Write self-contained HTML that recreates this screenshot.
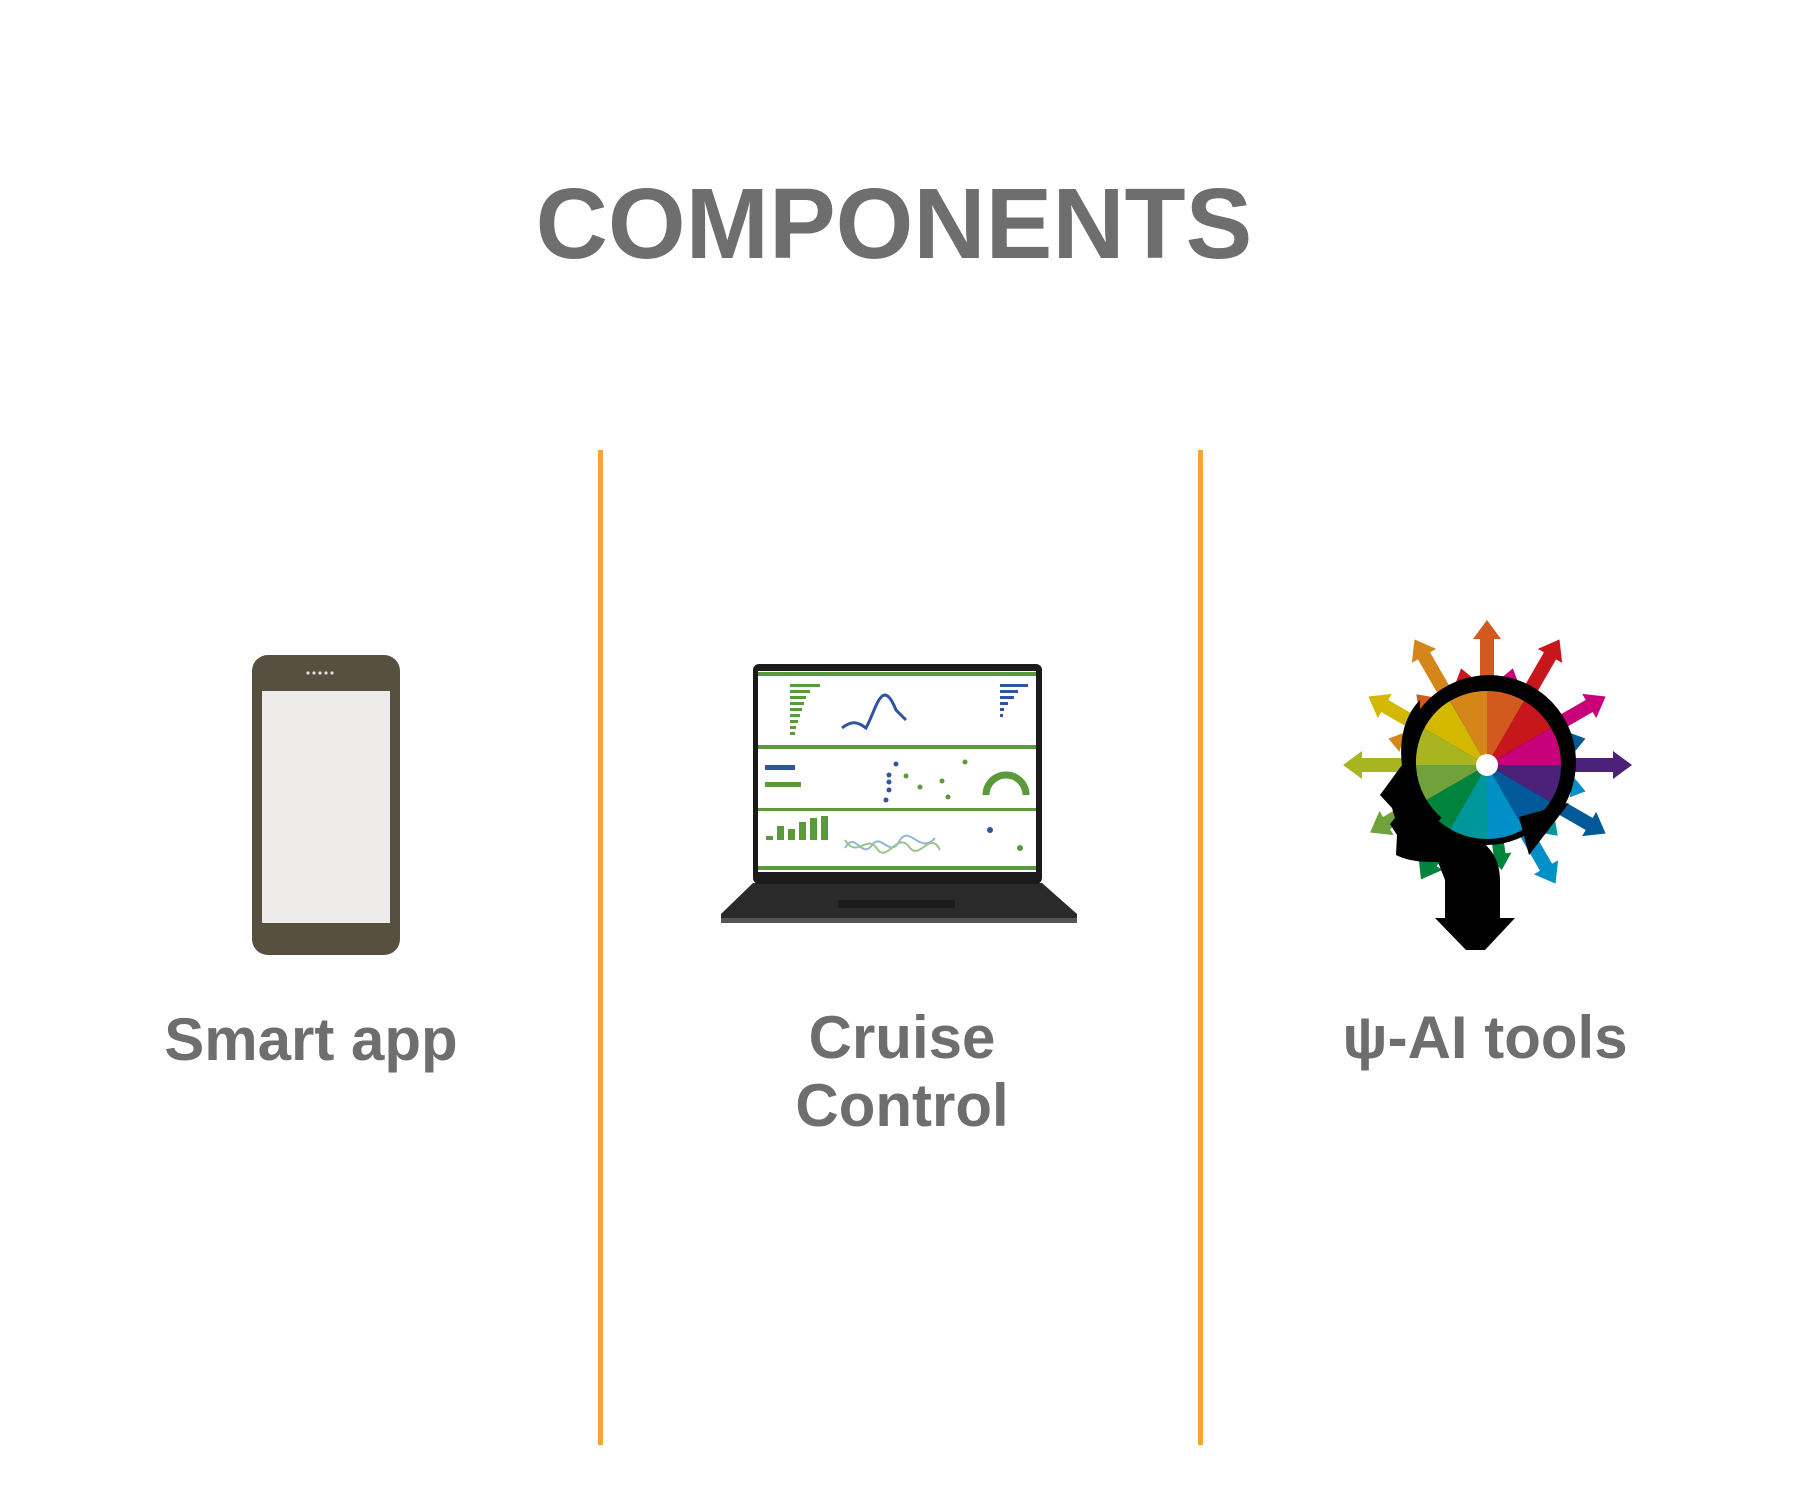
<!DOCTYPE html>
<html><head><meta charset="utf-8"><style>
html,body{margin:0;padding:0;background:#fff}
body{width:1800px;height:1500px;position:relative;overflow:hidden;font-family:"Liberation Sans",Arial,sans-serif}
.t{position:absolute;font-weight:bold;color:#6e6e6e;text-align:center;white-space:nowrap}
.vl{position:absolute;top:450px;height:995px;width:5px;background:#F9A33B}
</style></head><body>
<div class="t" style="left:0;width:1788px;top:164px;font-size:100px;line-height:120px">COMPONENTS</div>
<div class="vl" style="left:598px"></div>
<div class="vl" style="left:1198px"></div>

<div class="t" style="left:111px;width:400px;top:1006px;font-size:60px;line-height:68px">Smart app</div>
<div class="t" style="left:702px;width:400px;top:1004px;font-size:60px;line-height:68px">Cruise<br>Control</div>
<div class="t" style="left:1285px;width:400px;top:1004px;font-size:60px;line-height:68px">ψ-AI tools</div>

<svg width="1800" height="1500" style="position:absolute;left:0;top:0">
 <!-- phone -->
 <rect x="252" y="655" width="148" height="300" rx="16" fill="#575040"/>
 <rect x="262" y="691" width="128" height="232" fill="#EDECEA"/>
 <g fill="#ddd"><circle cx="308" cy="673" r="1.6"/><circle cx="314" cy="673" r="1.6"/><circle cx="320" cy="673" r="1.6"/><circle cx="326" cy="673" r="1.6"/><circle cx="332" cy="673" r="1.6"/></g>
 <!-- laptop -->
 <polygon points="753,883 1042,883 1077,914 1077,922 721,922 721,914" fill="#2a2a2a"/>
 <rect x="721" y="918" width="356" height="5" fill="#555"/>
 <rect x="838" y="900" width="117" height="8" fill="#1c1c1c"/>
 <rect x="753" y="664" width="289" height="220" rx="6" fill="#1b1b1b"/>
 <rect x="758" y="671" width="278" height="201" fill="#fff"/>
 <g fill="#5a9a3a">
  <rect x="758" y="672" width="278" height="4"/><rect x="758" y="745" width="278" height="4"/><rect x="758" y="808" width="278" height="3"/><rect x="758" y="866" width="278" height="4"/>
  <rect x="790" y="684" width="30" height="3"/><rect x="790" y="690" width="20" height="3"/><rect x="790" y="696" width="16" height="3"/><rect x="790" y="702" width="14" height="3"/><rect x="790" y="708" width="12" height="3"/><rect x="790" y="714" width="10" height="3"/><rect x="790" y="720" width="8" height="3"/><rect x="790" y="726" width="6" height="3"/><rect x="790" y="732" width="5" height="3"/>
  <rect x="765" y="782" width="36" height="5"/>
  <rect x="766" y="836" width="7" height="4"/><rect x="777" y="826" width="7" height="14"/><rect x="788" y="829" width="7" height="11"/><rect x="799" y="822" width="7" height="18"/><rect x="810" y="818" width="7" height="22"/><rect x="821" y="816" width="7" height="24"/>
 </g>
 <g fill="#2f55a0">
  <rect x="1000" y="684" width="28" height="3"/><rect x="1000" y="690" width="18" height="3"/><rect x="1000" y="696" width="14" height="3"/><rect x="1000" y="702" width="8" height="3"/><rect x="1000" y="708" width="4" height="3"/><rect x="1000" y="714" width="3" height="3"/>
  <rect x="765" y="765" width="30" height="5"/>
 </g>
 <path d="M842,728 C852,720 858,722 866,728 C876,710 882,675 896,710 L906,720" stroke="#2f55a0" stroke-width="3" fill="none"/>
 <path d="M845,848 C855,830 862,860 872,845 C882,832 890,860 900,840 C910,825 920,855 935,838" stroke="#8fb8d8" stroke-width="2" fill="none"/>
 <path d="M845,840 C858,860 866,832 878,850 C888,862 898,830 910,848 C920,860 930,830 940,850" stroke="#9cc48a" stroke-width="2" fill="none"/>
 <path d="M986,795 A20,20 0 0 1 1026,795" stroke="#5a9a3a" stroke-width="7" fill="none"/>
 <g fill="#2f55a0"><circle cx="896" cy="764" r="2.5"/><circle cx="889" cy="775" r="2.5"/><circle cx="889" cy="782" r="2.5"/><circle cx="889" cy="790" r="2.5"/><circle cx="886" cy="800" r="2.5"/><circle cx="990" cy="830" r="3"/></g>
 <g fill="#5a9a3a"><circle cx="906" cy="776" r="2.5"/><circle cx="920" cy="787" r="2.5"/><circle cx="942" cy="781" r="2.5"/><circle cx="965" cy="762" r="2.5"/><circle cx="948" cy="797" r="2.5"/><circle cx="1020" cy="848" r="3"/></g>

 <!-- head -->
 <g transform="translate(1300,600)">
  <g transform="translate(187,165)">
   <g transform="rotate(-90)"><rect x="0" y="-7" width="128" height="14" fill="#D35A1F"/><polygon points="126,-14 145,0 126,14" fill="#D35A1F"/></g>
   <g transform="rotate(-60)"><rect x="0" y="-7" width="128" height="14" fill="#C8161D"/><polygon points="126,-14 145,0 126,14" fill="#C8161D"/></g>
   <g transform="rotate(-120)"><rect x="0" y="-7" width="128" height="14" fill="#D4861A"/><polygon points="126,-14 145,0 126,14" fill="#D4861A"/></g>
   <g transform="rotate(-150)"><rect x="0" y="-7" width="120" height="14" fill="#D4B800"/><polygon points="118,-14 137,0 118,14" fill="#D4B800"/></g>
   <g transform="rotate(180)"><rect x="0" y="-7" width="127" height="14" fill="#A8B520"/><polygon points="125,-14 144,0 125,14" fill="#A8B520"/></g>
   <g transform="rotate(-30)"><rect x="0" y="-7" width="120" height="14" fill="#C8007A"/><polygon points="118,-14 137,0 118,14" fill="#C8007A"/></g>
   <g transform="rotate(0)"><rect x="0" y="-7" width="128" height="14" fill="#4B2179"/><polygon points="126,-14 145,0 126,14" fill="#4B2179"/></g>
   <g transform="rotate(30)"><rect x="0" y="-7" width="120" height="14" fill="#005A9A"/><polygon points="118,-14 137,0 118,14" fill="#005A9A"/></g>
   <g transform="rotate(60)"><rect x="0" y="-7" width="120" height="14" fill="#0090C8"/><polygon points="118,-14 137,0 118,14" fill="#0090C8"/></g>
   <g transform="rotate(82)"><rect x="0" y="-6" width="92" height="12" fill="#00843D"/><polygon points="90,-12 106,0 90,12" fill="#00843D"/></g>
   <g transform="rotate(120)"><rect x="0" y="-7" width="115" height="14" fill="#00843D"/><polygon points="113,-14 132,0 113,14" fill="#00843D"/></g>
   <g transform="rotate(150)"><rect x="0" y="-7" width="118" height="14" fill="#6FA23A"/><polygon points="116,-14 135,0 116,14" fill="#6FA23A"/></g>
   <g transform="rotate(-105)"><rect x="0" y="-5" width="88" height="10" fill="#C8161D"/><polygon points="86,-10 100,0 86,10" fill="#C8161D"/></g>
   <g transform="rotate(-75)"><rect x="0" y="-5" width="88" height="10" fill="#C8007A"/><polygon points="86,-10 100,0 86,10" fill="#C8007A"/></g>
   <g transform="rotate(-135)"><rect x="0" y="-5" width="88" height="10" fill="#D35A1F"/><polygon points="86,-10 100,0 86,10" fill="#D35A1F"/></g>
   <g transform="rotate(-165)"><rect x="0" y="-5" width="90" height="10" fill="#D4861A"/><polygon points="88,-10 102,0 88,10" fill="#D4861A"/></g>
   <g transform="rotate(-15)"><rect x="0" y="-5" width="90" height="10" fill="#005A9A"/><polygon points="88,-10 102,0 88,10" fill="#005A9A"/></g>
   <g transform="rotate(15)"><rect x="0" y="-5" width="90" height="10" fill="#0090C8"/><polygon points="88,-10 102,0 88,10" fill="#0090C8"/></g>
   <g transform="rotate(45)"><rect x="0" y="-5" width="88" height="10" fill="#00979A"/><polygon points="86,-10 100,0 86,10" fill="#00979A"/></g>
  </g>
  <!-- silhouette -->
  <path d="M120,100 C100,120 100,150 102,165 L80,195 L92,208 L95,218 L90,224 L97,235 L96,255 C110,262 125,262 138,262 L145,280 L145,318 L135,318 L166,350 L185,350 L215,318 L200,318 L200,280 C200,255 185,240 165,232 L120,210 Z" fill="#000"/>
  <g transform="translate(187,165)">
   <circle r="80" fill="#000"/>
   <path d="M0,0 L0,-74 A74,74 0 0 1 37,-64 Z" fill="#D35A1F"/>
   <path d="M0,0 L37,-64 A74,74 0 0 1 64,-37 Z" fill="#C8161D"/>
   <path d="M0,0 L64,-37 A74,74 0 0 1 74,0 Z" fill="#C8007A"/>
   <path d="M0,0 L74,0 A74,74 0 0 1 64,37 Z" fill="#4B2179"/>
   <path d="M0,0 L64,37 A74,74 0 0 1 37,64 Z" fill="#005A9A"/>
   <path d="M0,0 L37,64 A74,74 0 0 1 0,74 Z" fill="#0090C8"/>
   <path d="M0,0 L0,74 A74,74 0 0 1 -37,64 Z" fill="#00979A"/>
   <path d="M0,0 L-37,64 A74,74 0 0 1 -64,37 Z" fill="#00843D"/>
   <path d="M0,0 L-64,37 A74,74 0 0 1 -74,0 Z" fill="#6FA23A"/>
   <path d="M0,0 L-74,0 A74,74 0 0 1 -64,-37 Z" fill="#A8B520"/>
   <path d="M0,0 L-64,-37 A74,74 0 0 1 -37,-64 Z" fill="#D4B800"/>
   <path d="M0,0 L-37,-64 A74,74 0 0 1 0,-74 Z" fill="#D4861A"/>
   <circle r="11" fill="#fff"/>
   <path d="M-50,58 A80,80 0 1 1 62,50" stroke="#000" stroke-width="14" fill="none"/>
   <polygon points="32,52 82,38 42,90" fill="#000"/>
  </g>
 </g>
</svg>
</body></html>
